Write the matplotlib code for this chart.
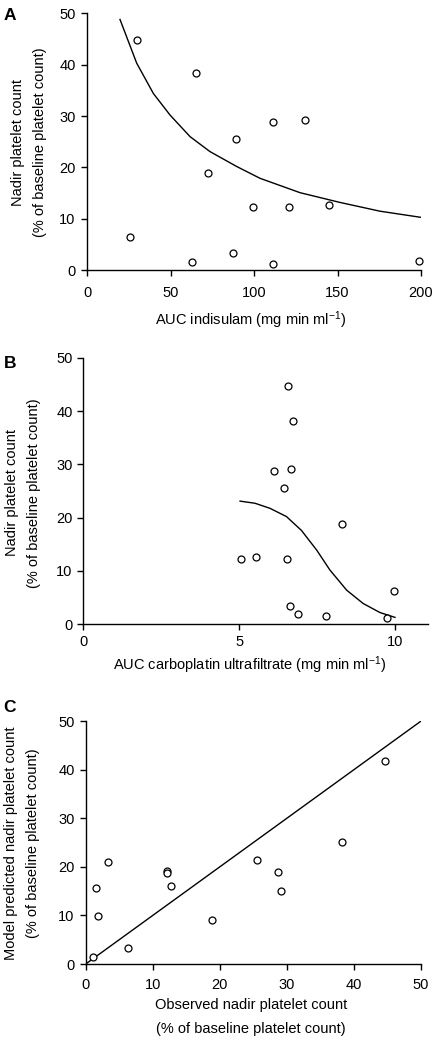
import matplotlib
matplotlib.use("Agg")
import matplotlib.pyplot as plt

plt.rcParams['font.family'] = ['Liberation Sans', 'DejaVu Sans']
plt.rcParams['mathtext.fontset'] = 'custom'
plt.rcParams['mathtext.rm'] = 'Liberation Sans'
plt.rcParams['mathtext.it'] = 'Liberation Sans:italic'

# Panel A: AUC indisulam vs nadir platelet count
a_x = [29.8, 65.1, 25.4, 62.5, 72.5, 87.1, 88.9, 99.1, 111.5, 111.3, 120.9, 130.5, 145.1, 199.0]
a_y = [44.8, 38.3, 6.4, 1.6, 18.9, 3.4, 25.6, 12.3, 28.8, 1.3, 12.3, 29.2, 12.7, 1.9]
a_curve_x = [19.6, 29.6, 39.6, 49.6, 61.6, 73.5, 89.5, 103.5, 127.5, 151.5, 175.4, 200.0]
a_curve_y = [48.8, 40.3, 34.4, 30.2, 26.0, 23.1, 20.2, 17.9, 15.1, 13.2, 11.5, 10.3]

# Panel B: AUC carboplatin ultrafiltrate vs nadir platelet count
b_x = [6.58, 6.74, 6.12, 6.68, 6.45, 8.31, 5.05, 5.55, 6.55, 9.98, 6.64, 6.89, 7.78, 9.76]
b_y = [44.75, 38.2, 28.8, 29.1, 25.6, 18.9, 12.2, 12.7, 12.2, 6.3, 3.4, 2.0, 1.5, 1.25]
b_curve_x = [5.03, 5.51, 5.99, 6.52, 7.0, 7.49, 7.91, 8.45, 8.98, 9.52, 10.0]
b_curve_y = [23.1, 22.7, 21.75, 20.2, 17.6, 13.9, 10.2, 6.4, 3.9, 2.2, 1.3]

# Panel C: observed vs model predicted
c_obs = [1.1, 1.5, 1.9, 3.3, 6.3, 12.1, 12.1, 12.7, 18.9, 25.6, 28.7, 29.1, 38.2, 44.7]
c_pred = [1.5, 15.7, 9.9, 21.0, 3.2, 19.2, 18.8, 16.1, 9.1, 21.4, 19.0, 15.0, 25.1, 41.9]
c_line = [0, 50]

W, H = 438, 1040
fig = plt.figure(figsize=(W / 100, H / 100), dpi=100)


def ax_px(left, top, right, bottom):
    return fig.add_axes([left / W, 1 - bottom / H, (right - left) / W, (bottom - top) / H])


def style(ax, xpad, ypad):
    for s in ('top', 'right'):
        ax.spines[s].set_visible(False)
    for s in ('left', 'bottom'):
        ax.spines[s].set_linewidth(1.0)
    ax.tick_params(direction='out', length=4.2, width=1.0, labelsize=10.5)
    ax.tick_params(axis='x', pad=xpad)
    ax.tick_params(axis='y', pad=ypad)


def ftext(x, y, s, **kw):
    fig.text(x / W, 1 - y / H, s, **kw)


mk = dict(marker='o', ms=5, mfc='white', mec='black', mew=0.9, ls='none', clip_on=False, zorder=3)

# A
axA = ax_px(87.3, 13.3, 421.0, 270.3)
axA.plot(a_curve_x, a_curve_y, color='black', lw=1.0)
axA.plot(a_x, a_y, **mk)
axA.set_xlim(0, 200)
axA.set_ylim(0, 50)
axA.set_xticks([0, 50, 100, 150, 200])
axA.set_yticks([0, 10, 20, 30, 40, 50])
style(axA, 6.8, 4.2)
ftext(10, 15, 'A', fontsize=12.5, fontweight='bold', ha='center', va='center')
ftext(18, 142, 'Nadir platelet count', rotation=90, fontsize=10.5, ha='center', va='center')
ftext(40, 142, '(% of baseline platelet count)', rotation=90, fontsize=10.5, ha='center', va='center')
ftext(251, 320, 'AUC indisulam (mg min ml$^{-1}$)', fontsize=10.5, ha='center', va='center')

# B
axB = ax_px(83.3, 357.7, 427.7, 624.3)
axB.plot(b_curve_x, b_curve_y, color='black', lw=1.0)
axB.plot(b_x, b_y, **mk)
axB.set_xlim(0, 11.05)
axB.set_ylim(0, 50)
axB.set_xticks([0, 5, 10])
axB.set_yticks([0, 10, 20, 30, 40, 50])
style(axB, 3.6, 3.4)
ftext(10, 363, 'B', fontsize=12.5, fontweight='bold', ha='center', va='center')
ftext(12, 493, 'Nadir platelet count', rotation=90, fontsize=10.5, ha='center', va='center')
ftext(34, 493, '(% of baseline platelet count)', rotation=90, fontsize=10.5, ha='center', va='center')
ftext(250, 665, 'AUC carboplatin ultrafiltrate (mg min ml$^{-1}$)', fontsize=10.5, ha='center', va='center')

# C
axC = ax_px(85.7, 721.3, 420.7, 964.0)
axC.plot(c_line, c_line, color='black', lw=1.0)
axC.plot(c_obs, c_pred, **mk)
axC.set_xlim(0, 50)
axC.set_ylim(0, 50)
axC.set_xticks([0, 10, 20, 30, 40, 50])
axC.set_yticks([0, 10, 20, 30, 40, 50])
style(axC, 6.0, 3.8)
ftext(10, 707, 'C', fontsize=12.5, fontweight='bold', ha='center', va='center')
ftext(11, 843, 'Model predicted nadir platelet count', rotation=90, fontsize=10.5, ha='center', va='center')
ftext(33, 843, '(% of baseline platelet count)', rotation=90, fontsize=10.5, ha='center', va='center')
ftext(251, 1005, 'Observed nadir platelet count', fontsize=10.5, ha='center', va='center')
ftext(251, 1029, '(% of baseline platelet count)', fontsize=10.5, ha='center', va='center')

fig.savefig('out.png', dpi=100)
